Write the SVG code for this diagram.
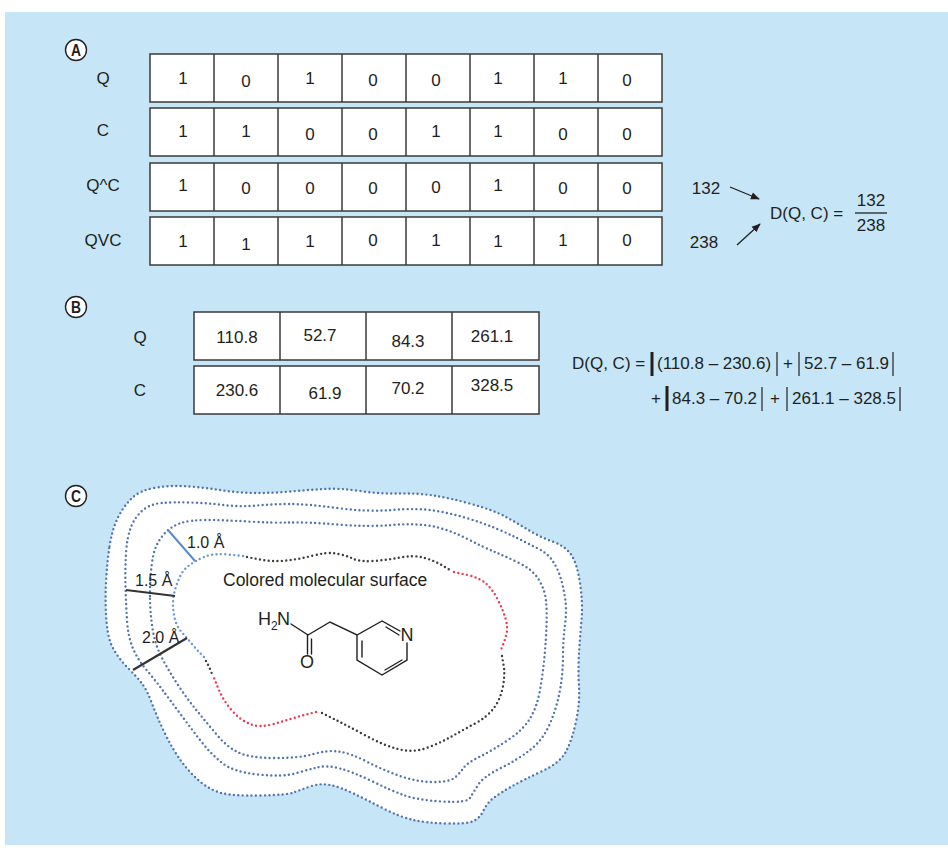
<svg xmlns="http://www.w3.org/2000/svg" width="948" height="850" viewBox="0 0 948 850">
<defs>
<style>
  text { font-family: "Liberation Sans", Arial, sans-serif; fill: #231f20; }
  .t { font-size: 17px; }
  .c { text-anchor: middle; }
  .cell { fill: #fff; stroke: #3a3a3a; stroke-width: 1.5; }
  .div { fill: none; stroke: #3a3a3a; stroke-width: 1.5; }
  .badge circle { fill: #fff; stroke: #231f20; stroke-width: 1.4; }
  .badge text { font-size: 17px; font-weight: bold; text-anchor: middle; }
  .dots { fill: none; stroke-width: 2.4; stroke-linecap: round; stroke-dasharray: 0 4.4; }
  .shell { stroke: #5274ad; }
  .surf-b { stroke: #6a98d4; }
  .surf-k { stroke: #3d3d3d; }
  .surf-r { stroke: #f2384f; }
  .bond { stroke: #231f20; stroke-width: 1.4; fill: none; stroke-linecap: round; }
  .bar { stroke: #231f20; stroke-width: 1.2; }
  .bar-b { stroke: #231f20; stroke-width: 3; }
  .arrow { stroke: #231f20; stroke-width: 1.3; marker-end: url(#arrowhead); }
</style>
<marker id="arrowhead" viewBox="0 0 10 10" refX="9" refY="5" markerWidth="9" markerHeight="9" markerUnits="userSpaceOnUse" orient="auto">
  <path d="M0,1 L10,5 L0,9 z" fill="#231f20"/>
</marker>
</defs>

<!-- backdrop -->
<rect x="5" y="12" width="943" height="833" fill="#c6e6f8"/>

<!-- ===== Panel A: binary fingerprints ===== -->
<g id="badge-a" class="badge"><circle cx="76" cy="50" r="10.5"/><text x="76" y="56" textLength="10" lengthAdjust="spacingAndGlyphs">A</text></g>

<g id="row-q">
  <text class="t c" x="103" y="84">Q</text>
  <rect class="cell" x="150" y="54" width="512" height="48"/>
  <path class="div" d="M214,54V102M278,54V102M342,54V102M406,54V102M470,54V102M534,54V102M598,54V102"/>
  <text class="t c" x="183" y="84">1</text><text class="t c" x="246" y="87">0</text>
  <text class="t c" x="310" y="84">1</text><text class="t c" x="373" y="86">0</text>
  <text class="t c" x="436" y="86">0</text><text class="t c" x="498" y="84">1</text>
  <text class="t c" x="563" y="84">1</text><text class="t c" x="627" y="86">0</text>
</g>
<g id="row-c">
  <text class="t c" x="103" y="136">C</text>
  <rect class="cell" x="150" y="108" width="512" height="48"/>
  <path class="div" d="M214,108V156M278,108V156M342,108V156M406,108V156M470,108V156M534,108V156M598,108V156"/>
  <text class="t c" x="183" y="137">1</text><text class="t c" x="246" y="137">1</text>
  <text class="t c" x="310" y="140">0</text><text class="t c" x="373" y="140">0</text>
  <text class="t c" x="436" y="137">1</text><text class="t c" x="498" y="137">1</text>
  <text class="t c" x="563" y="140">0</text><text class="t c" x="627" y="140">0</text>
</g>
<g id="row-and">
  <text class="t c" x="103" y="191">Q^C</text>
  <rect class="cell" x="150" y="163" width="512" height="48"/>
  <path class="div" d="M214,163V211M278,163V211M342,163V211M406,163V211M470,163V211M534,163V211M598,163V211"/>
  <text class="t c" x="183" y="191">1</text><text class="t c" x="246" y="194">0</text>
  <text class="t c" x="310" y="194">0</text><text class="t c" x="373" y="194">0</text>
  <text class="t c" x="436" y="193">0</text><text class="t c" x="498" y="191">1</text>
  <text class="t c" x="563" y="194">0</text><text class="t c" x="627" y="194">0</text>
</g>
<g id="row-or">
  <text class="t c" x="103" y="246">QVC</text>
  <rect class="cell" x="150" y="217" width="512" height="48"/>
  <path class="div" d="M214,217V265M278,217V265M342,217V265M406,217V265M470,217V265M534,217V265M598,217V265"/>
  <text class="t c" x="183" y="247">1</text><text class="t c" x="246" y="250">1</text>
  <text class="t c" x="310" y="247">1</text><text class="t c" x="373" y="246">0</text>
  <text class="t c" x="436" y="246">1</text><text class="t c" x="498" y="247">1</text>
  <text class="t c" x="563" y="246">1</text><text class="t c" x="627" y="246">0</text>
</g>

<g id="count-and"><text class="t c" x="706" y="194">132</text></g>
<g id="count-or"><text class="t c" x="704" y="248">238</text></g>
<g id="tanimoto">
  <text class="t" x="770" y="219">D(Q, C) =</text>
  <text class="t c" x="871" y="206">132</text>
  <line x1="855" y1="213" x2="887" y2="213" stroke="#231f20" stroke-width="1.3"/>
  <text class="t c" x="871" y="231">238</text>
</g>

<!-- ===== Panel B: real-valued descriptors ===== -->
<g id="badge-b" class="badge"><circle cx="76" cy="307" r="10.5"/><text x="76" y="313" textLength="10" lengthAdjust="spacingAndGlyphs">B</text></g>

<g id="vec-q">
  <text class="t c" x="140" y="343">Q</text>
  <rect class="cell" x="194" y="312" width="345" height="48"/>
  <path class="div" d="M280,312V360M366,312V360M452,312V360"/>
  <text class="t c" x="237" y="343">110.8</text><text class="t c" x="320" y="341">52.7</text>
  <text class="t c" x="408" y="347">84.3</text><text class="t c" x="492" y="342">261.1</text>
</g>
<g id="vec-c">
  <text class="t c" x="140" y="396">C</text>
  <rect class="cell" x="194" y="366" width="345" height="48"/>
  <path class="div" d="M280,366V414M366,366V414M452,366V414"/>
  <text class="t c" x="237" y="396">230.6</text><text class="t c" x="325" y="399">61.9</text>
  <text class="t c" x="408" y="394">70.2</text><text class="t c" x="492" y="391">328.5</text>
</g>

<g id="manhattan">
  <text class="t" x="572" y="369">D(Q, C) =</text>
  <line class="bar-b" x1="652" y1="352" x2="652" y2="376"/>
  <text class="t" x="657" y="369">(110.8 – 230.6)</text>
  <line class="bar" x1="777" y1="352" x2="777" y2="376"/>
  <text class="t c" x="788" y="369">+</text>
  <line class="bar" x1="799" y1="352" x2="799" y2="376"/>
  <text class="t" x="804" y="369">52.7 – 61.9</text>
  <line class="bar" x1="893" y1="352" x2="893" y2="376"/>

  <text class="t c" x="656" y="404">+</text>
  <line class="bar-b" x1="667" y1="386" x2="667" y2="411"/>
  <text class="t" x="672" y="404">84.3 – 70.2</text>
  <line class="bar" x1="762" y1="387" x2="762" y2="411"/>
  <text class="t c" x="775" y="404">+</text>
  <line class="bar" x1="787" y1="387" x2="787" y2="411"/>
  <text class="t" x="792" y="404">261.1 – 328.5</text>
  <line class="bar" x1="900" y1="387" x2="900" y2="411"/>
</g>

<!-- ===== Panel C: surface shells ===== -->
<g id="badge-c" class="badge"><circle cx="76" cy="496" r="10.5"/><text x="76" y="502" textLength="10" lengthAdjust="spacingAndGlyphs">C</text></g>

<g id="shell-20">
  <path class="dots shell" style="fill:#fff" d="M109.5,546.5 Q112,530 117.5,518.5 Q123,507 131.5,498.5 Q140,490 156.5,487.5 Q173,485 190,486.5 Q207,488 223.5,490.5 Q240,493 256.5,493 Q273,493 290,491.5 Q307,490 323.5,489 Q340,488 360,491 Q380,494 398.5,493.5 Q417,493 433.5,495.5 Q450,498 471.5,504 Q493,510 505,516.5 Q517,523 528.5,530 Q540,537 552.5,541.5 Q565,546 571,554.5 Q577,563 580,583 Q583,603 581.5,620 Q580,637 579,653.5 Q578,670 579,686.5 Q580,703 576,721.5 Q572,740 566,751.5 Q560,763 541.5,771.5 Q523,780 511.5,786.5 Q500,793 493.5,798 Q487,803 483.5,810.5 Q480,818 473.5,821 Q467,824 447,823.5 Q427,823 413.5,820 Q400,817 383.5,808.5 Q367,800 353.5,793.5 Q340,787 330,785 Q320,783 310,786.5 Q300,790 293.5,792.5 Q287,795 260,795.5 Q233,796 221.5,793 Q210,790 200,781.5 Q190,773 181.5,761.5 Q173,750 165,733.5 Q157,717 152,703.5 Q147,690 142,683.5 Q137,677 128.5,668.5 Q120,660 114,650 Q108,640 106.5,621.5 Q105,603 106,583 Q107,563 109.5,546.5 Z"/>
</g>
<g id="shell-15">
  <path class="dots shell" d="M125.5,586.5 Q125,570 126,553.5 Q127,537 131,527 Q135,517 142.5,510.5 Q150,504 161.5,503 Q173,502 190,502.5 Q207,503 223.5,505 Q240,507 256.5,505.5 Q273,504 290,504 Q307,504 337,508 Q367,512 392,510 Q417,508 433.5,510.5 Q450,513 466.5,518 Q483,523 495,528 Q507,533 517,538 Q527,543 537,548 Q547,553 552,560 Q557,567 560,576 Q563,585 565,597.5 Q567,610 565,625 Q563,640 563,656.5 Q563,673 560,690 Q557,707 550,723.5 Q543,740 530,750 Q517,760 500,768.5 Q483,777 478,785 Q473,793 470,798 Q467,803 442,801.5 Q417,800 403.5,795 Q390,790 371.5,781 Q353,772 340,768.5 Q327,765 317,767.5 Q307,770 295,773.5 Q283,777 258,774.5 Q233,772 221.5,762.5 Q210,753 200,740 Q190,727 180,713.5 Q170,700 162.5,690 Q155,680 146.5,670 Q138,660 133,648.5 Q128,637 127,620 Q126,603 125.5,586.5 Z"/>
</g>
<g id="shell-10">
  <path class="dots shell" d="M150,596 Q150,580 151.5,566.5 Q153,553 156.5,545.5 Q160,538 166,532 Q172,526 181,523 Q190,520 206.5,520 Q223,520 248,521.5 Q273,523 290,522.5 Q307,522 337,524.5 Q367,527 392,525 Q417,523 433.5,526.5 Q450,530 466.5,538.5 Q483,547 495,552 Q507,557 520,563.5 Q533,570 539,580 Q545,590 546,601 Q547,612 546.5,626 Q546,640 544.5,656.5 Q543,673 540,690 Q537,707 530,718.5 Q523,730 508,740 Q493,750 480,756.5 Q467,763 463.5,768 Q460,773 455,777.5 Q450,782 433.5,782 Q417,782 400,776 Q383,770 366.5,761.5 Q350,753 338.5,751.5 Q327,750 313.5,754 Q300,758 275,758 Q250,758 238.5,752.5 Q227,747 217,735 Q207,723 197.5,711.5 Q188,700 179,686.5 Q170,673 162.5,659 Q155,645 152.5,628.5 Q150,612 150,596 Z"/>
</g>

<g id="molecular-surface">
  <path class="dots surf-b" d="M243,556 L228,554.5 Q213,553 204,557 Q195,561 189,565.5 Q183,570 180,576.5 Q177,583 175,590 Q173,597 173,604.5 Q173,612 175,619.5 Q177,627 182,632.5 Q187,638 192,644 Q197,650 200.5,653.5 L204,657"/>
  <path class="dots surf-k" d="M247,557 L260,559.5 Q273,562 286.5,560.5 Q300,559 313.5,555.5 Q327,552 336,553.5 Q345,555 352.5,558.5 Q360,562 373.5,561 Q387,560 400,557.5 Q413,555 423,557.5 Q433,560 441.5,565 L450,570"/>
  <path class="dots surf-r" d="M454,572 L467.5,575 Q480,578 486.5,584 Q493,590 498,600 Q503,610 505.5,618.5 Q508,627 506.5,633.5 Q505,640 502.5,646 L500,652"/>
  <path class="dots surf-k" d="M502,656 L504,667.5 Q505,677 502.5,688.5 Q500,700 493.5,708.5 Q487,717 475,723.5 Q463,730 451.5,736.5 Q440,743 426.5,748 Q413,753 398,749 Q383,745 366.5,736 Q350,727 335,719.5 L320,712"/>
  <path class="dots surf-r" d="M316,712 L300.5,716 Q287,720 273.5,724 Q260,728 250,724 Q240,720 231.5,710 Q223,700 218.5,689 L214,678"/>
  <path class="dots surf-k" d="M206,661 Q209,666 212,674"/>
  <text x="223" y="586" style="font-size:17.5px">Colored molecular surface</text>
</g>

<g id="radius-10">
  <line x1="168" y1="530" x2="195" y2="561" stroke="#5a8ccc" stroke-width="2"/>
  <text x="187" y="548" style="font-size:16px">1.0 Å</text>
</g>
<g id="radius-15">
  <line x1="126" y1="590" x2="175" y2="596" stroke="#333" stroke-width="2.2"/>
  <text x="135" y="586" style="font-size:16px">1.5 Å</text>
</g>
<g id="radius-20">
  <line x1="133" y1="670" x2="187" y2="638" stroke="#333" stroke-width="2.2"/>
  <text x="142" y="643" style="font-size:16px">2.0 Å</text>
</g>

<!-- 2-(pyridin-3-yl)acetamide -->
<g id="ligand">
  <text x="258" y="625" style="font-size:18px">H</text>
  <text x="271" y="630" style="font-size:12px">2</text>
  <text x="277" y="625" style="font-size:18px">N</text>
  <text x="307" y="668" style="font-size:18px" text-anchor="middle">O</text>
  <text x="407" y="641" style="font-size:18px" text-anchor="middle">N</text>
  <path class="bond" d="M291,624 L308,635 L330,622 L357,635 L382,621 L400,631 M407,643 L407,660 L382,675 L357,660 L357,635 M307.5,635 L307.5,654 M311.5,639 L311.5,654 M386,627 L399,635 M362,641 L362,657 M385,670 L402,660"/>
</g>

<g id="connectors">
  <line class="arrow" x1="730" y1="187" x2="759" y2="199"/>
  <line class="arrow" x1="737" y1="245" x2="760" y2="224"/>
</g>
</svg>
